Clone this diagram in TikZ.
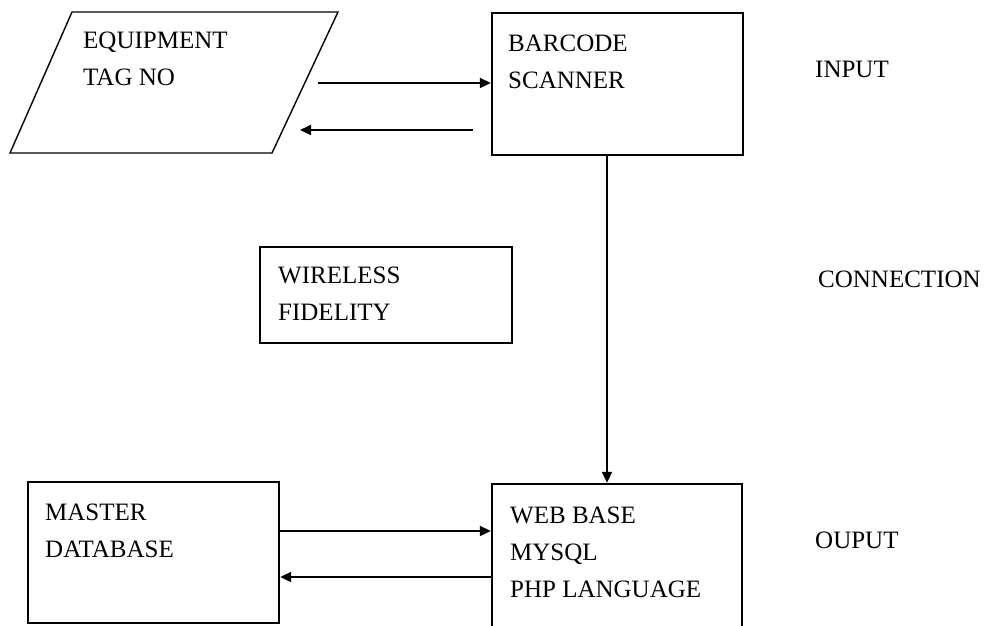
\documentclass[tikz,border=0pt]{standalone}
\usepackage{fontspec}
\setmainfont{Liberation Serif}
\usetikzlibrary{arrows.meta}
\begin{document}
\begin{tikzpicture}[x=1pt,y=-1pt,
  boxnode/.style={draw,line width=2.4pt,inner sep=0pt,rectangle},
  lbl/.style={anchor=base west,inner sep=0pt,align=left,font=\fontsize{25}{37}\selectfont},
  arr/.style={line width=2pt,-{Triangle[length=11pt,width=10pt]}}]
\useasboundingbox (0,0) rectangle (986,625);
\begin{scope}
\clip (0,0) rectangle (986,625);
% parallelogram
\coordinate (p1) at (72,12);
\coordinate (p2) at (338,12);
\coordinate (p3) at (272,153);
\coordinate (p4) at (10,153);
\draw[line width=1.4pt] (p1) -- (p2) -- (p3) -- (p4) -- cycle;
\node[lbl] (equip) at (83,85) {EQUIPMENT\\TAG NO};
% boxes
\node[boxnode,minimum width=251pt,minimum height=142pt] (barcode) at (617.5,84) {};
\node[lbl] (barcodetxt) at (508,88) {BARCODE\\SCANNER};
\node[boxnode,minimum width=252pt,minimum height=96pt] (wifi) at (386,295) {};
\node[lbl] (wifitxt) at (278,320) {WIRELESS\\FIDELITY};
\node[boxnode,minimum width=251pt,minimum height=141pt] (master) at (153.5,552.5) {};
\node[lbl] (mastertxt) at (45,557) {MASTER\\DATABASE};
\node[boxnode,minimum width=250pt,minimum height=160pt] (web) at (617,564) {};
\node[lbl] (webtxt) at (510,597) {WEB BASE\\MYSQL\\PHP LANGUAGE};
% side labels
\node[lbl] (input) at (815,77) {INPUT};
\node[lbl] (conn) at (818,287) {CONNECTION};
\node[lbl] (output) at (815,548) {OUPUT};
% connectors
\coordinate (a1) at (318,83);
\coordinate (a2s) at (473,130);
\coordinate (a2e) at (300,130);
\coordinate (vx) at (607,0);
\coordinate (m1) at (0,531);
\coordinate (m2) at (0,577);
\draw[arr] (a1) -- (a1 -| barcode.west);
\draw[arr] (a2s) -- (a2e);
\draw[arr] (barcode.south -| vx) -- (web.north -| vx);
\draw[arr] (m1 -| master.east) -- (m1 -| web.west);
\draw[arr] (m2 -| web.west) -- (m2 -| master.east);
\end{scope}
\end{tikzpicture}
\end{document}
